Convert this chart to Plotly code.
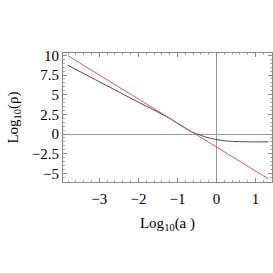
import plotly.graph_objects as go

# data
red_x = [-3.80, 1.33]
red_y = [9.94, -5.71]

black_x = [-3.80, -3.0, -2.5, -1.96, -1.70, -1.19, -0.90, -0.63, -0.45, -0.30, -0.15, 0.0, 0.2, 0.4, 0.6, 0.9, 1.33]
black_y = [8.73, 6.65, 5.35, 3.94, 3.30, 1.96, 1.05, 0.25, -0.08, -0.35, -0.55, -0.70, -0.86, -0.93, -0.97, -0.99, -1.0]

x_ticks = [-3, -2, -1, 0, 1]
x_ticktext = ["\u22123", "\u22122", "\u22121", "0", "1"]
y_ticks = [-5, -2.5, 0, 2.5, 5, 7.5, 10]
y_ticktext = ["\u22125", "\u22122.5", "0", "2.5", "5", "7.5", "10"]

fig = go.Figure()
fig.add_trace(go.Scatter(x=black_x, y=black_y, mode="lines", line=dict(color="#444444", width=1, shape="spline", smoothing=0.5)))
fig.add_trace(go.Scatter(x=red_x, y=red_y, mode="lines", line=dict(color="#ff4a4a", width=1)))

font = dict(family="Liberation Serif, Times New Roman, serif", size=15, color="black")
axis_common = dict(
    showline=True, linecolor="#888888", linewidth=1, mirror="ticks",
    ticks="inside", ticklen=4, tickcolor="#888888", tickwidth=1,
    showgrid=False, zeroline=True, zerolinecolor="#999999", zerolinewidth=1,
    tickfont=font, automargin=False,
)
fig.update_xaxes(range=[-3.93, 1.42], tickvals=x_ticks, ticktext=x_ticktext, ticklabelstandoff=3,
                 minor=dict(ticks="inside", ticklen=2, tickcolor="#aaaaaa", dtick=0.2, showgrid=False),
                 title=dict(text="Log<sub>10</sub>(a )", font=font, standoff=11), **axis_common)
fig.update_yaxes(range=[-6.1, 10.3], tickvals=y_ticks, ticktext=y_ticktext,
                 minor=dict(ticks="inside", ticklen=2, tickcolor="#aaaaaa", dtick=0.5, showgrid=False),
                 title=dict(text="Log<sub>10</sub>(ρ)", font=font, standoff=9), **axis_common)
fig.update_layout(
    width=273, height=273, showlegend=False,
    margin=dict(l=63, r=1, t=53, b=91),
    paper_bgcolor="white", plot_bgcolor="white", font=font,
)
fig.write_html("out.html", config={"displayModeBar": False},
               post_script="document.body.style.margin='0';document.body.style.overflow='hidden';")
